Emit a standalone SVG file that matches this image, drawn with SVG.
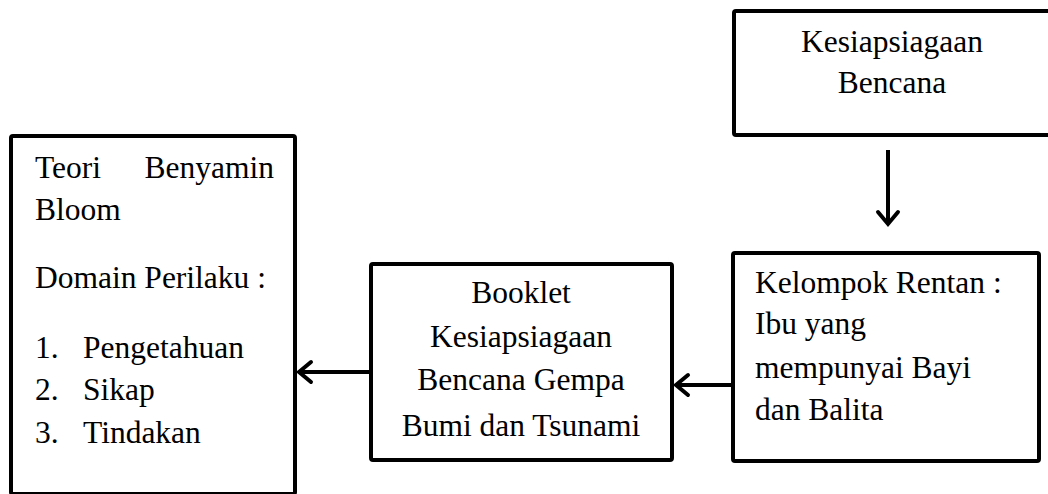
<svg xmlns="http://www.w3.org/2000/svg" width="1048" height="494" viewBox="0 0 1048 494">
<style>
.box{fill:#fff;stroke:#000;stroke-width:4;stroke-linejoin:round}
.t{font-family:"Liberation Serif","Times New Roman",serif;font-size:31.5px;fill:#000}
.c{text-anchor:middle}
.ln{stroke:#000;stroke-width:4;fill:none;stroke-linecap:butt}
.ah{stroke:#000;stroke-width:4;fill:none;stroke-linecap:round;stroke-linejoin:miter}
</style>
<rect width="1048" height="494" fill="#fff"/>
<g id="kesiapsiagaan">
<rect class="box" x="734" y="11" width="320" height="124" rx="2"/>
<text class="t c" x="892" y="52">Kesiapsiagaan</text>
<text class="t c" x="892" y="93">Bencana</text>
</g>
<g id="kelompok">
<rect class="box" x="733" y="253" width="306" height="208" rx="2"/>
<text class="t" x="755" y="293">Kelompok Rentan :</text>
<text class="t" x="755" y="334">Ibu yang</text>
<text class="t" x="755" y="378">mempunyai Bayi</text>
<text class="t" x="755" y="420">dan Balita</text>
</g>
<g id="booklet">
<rect class="box" x="371" y="264" width="301" height="196" rx="2"/>
<text class="t c" x="521" y="303">Booklet</text>
<text class="t c" x="521" y="347">Kesiapsiagaan</text>
<text class="t c" x="521" y="390">Bencana Gempa</text>
<text class="t c" x="521" y="436">Bumi dan Tsunami</text>
</g>
<g id="teori">
<rect class="box" x="11" y="136" width="284" height="358" rx="2"/>
<text class="t" x="35" y="178">Teori</text>
<text class="t" x="274" y="178" text-anchor="end">Benyamin</text>
<text class="t" x="35" y="220">Bloom</text>
<text class="t" x="35" y="288">Domain Perilaku :</text>
<text class="t" x="35" y="358">1.</text>
<text class="t" x="83" y="358">Pengetahuan</text>
<text class="t" x="35" y="400">2.</text>
<text class="t" x="83" y="400">Sikap</text>
<text class="t" x="35" y="443">3.</text>
<text class="t" x="83" y="443">Tindakan</text>
</g>
<g id="connectors">
<line class="ln" x1="888" y1="150" x2="888" y2="223"/>
<polyline class="ah" points="878,212 888,224 898,212"/>
<line class="ln" x1="733" y1="385" x2="677" y2="385"/>
<polyline class="ah" points="688,375 676,385 688,395"/>
<line class="ln" x1="371" y1="372" x2="300" y2="372"/>
<polyline class="ah" points="311,362 299,372 311,382"/>
</g>
</svg>
